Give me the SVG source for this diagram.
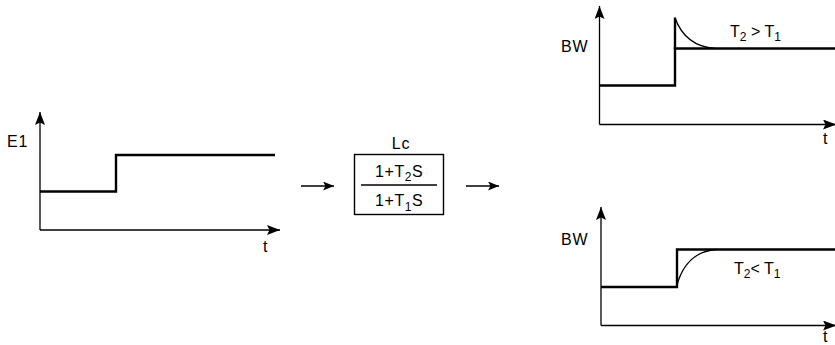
<svg xmlns="http://www.w3.org/2000/svg" width="835" height="345" viewBox="0 0 835 345">
  <defs>
    <marker id="ax" markerUnits="userSpaceOnUse" markerWidth="14" markerHeight="10" refX="13" refY="5" orient="auto">
      <path d="M0,0 L13,5 L0,10 L2.5,5 z" fill="#000"/>
    </marker>
    <marker id="ar" markerUnits="userSpaceOnUse" markerWidth="12" markerHeight="9" refX="11" refY="4.5" orient="auto">
      <path d="M0,0 L11,4.5 L0,9 L2.5,4.5 z" fill="#000"/>
    </marker>
  </defs>
  <style>
    .axis { stroke:#000; stroke-width:1.3; fill:none; marker-end:url(#ax); }
    .sig { stroke:#000; stroke-width:2.4; fill:none; stroke-linejoin:miter; }
    .curve { stroke:#000; stroke-width:1.4; fill:none; }
    .conn { stroke:#000; stroke-width:1.3; fill:none; marker-end:url(#ar); }
    text { font-family:"Liberation Sans", Arial, sans-serif; fill:#000; }
    .lbl { font-size:16px; letter-spacing:0.8px; }
    .t { font-size:16px; }
    .frac { font-size:16px; letter-spacing:0.6px; }
    .sub { font-size:12px; }
  </style>
  <rect width="835" height="345" fill="#fff"/>

  <g id="input-plot">
    <line class="axis" x1="40" y1="230" x2="40" y2="112"/>
    <line class="axis" x1="40" y1="230" x2="280" y2="230"/>
    <polyline class="sig" points="40,191.5 116,191.5 116,155 275,155"/>
    <text class="lbl" x="7" y="147">E1</text>
    <text class="t" x="263" y="252">t</text>
  </g>

  <g id="lc-block">
    <text class="lbl" x="401" y="149" text-anchor="middle">Lc</text>
    <rect x="354.5" y="154.5" width="89" height="60" fill="none" stroke="#000" stroke-width="1.4"/>
    <line x1="361" y1="185" x2="437" y2="185" stroke="#000" stroke-width="1.3"/>
    <text class="frac" x="375" y="177">1+T<tspan class="sub" dy="4">2</tspan><tspan dy="-4">S</tspan></text>
    <text class="frac" x="375" y="206">1+T<tspan class="sub" dy="5">1</tspan><tspan dy="-5">S</tspan></text>
  </g>

  <g id="output-high">
    <line class="axis" x1="599.5" y1="124.5" x2="599.5" y2="6"/>
    <line class="axis" x1="599.5" y1="124.5" x2="836" y2="124.5"/>
    <polyline class="sig" points="599.5,85.5 675,85.5 675,48.5 835,48.5"/>
    <line class="sig" x1="675" y1="49" x2="675" y2="17.5"/>
    <path class="curve" d="M675,18 C682,37 695,47 715,48.5"/>
    <text class="lbl" x="561" y="52">BW</text>
    <text class="t" x="730" y="37">T<tspan class="sub" dy="4">2</tspan><tspan dy="-4"> &gt; T</tspan><tspan class="sub" dy="4">1</tspan></text>
    <text class="t" x="823" y="144">t</text>
  </g>

  <g id="output-low">
    <line class="axis" x1="601" y1="325.5" x2="601" y2="207"/>
    <line class="axis" x1="601" y1="325.5" x2="836" y2="325.5"/>
    <polyline class="sig" points="601,287 677,287 677,249.5 835,249.5"/>
    <path class="curve" d="M677,285 C683,263 697,251 716,249.5"/>
    <text class="lbl" x="561" y="245">BW</text>
    <text class="t" x="734" y="273.5">T<tspan class="sub" dy="4">2</tspan><tspan dy="-4">&lt; T</tspan><tspan class="sub" dy="4">1</tspan></text>
    <text class="t" x="823" y="342">t</text>
  </g>

  <g id="connectors">
    <line class="conn" x1="301" y1="186" x2="334" y2="186"/>
    <line class="conn" x1="466" y1="186" x2="499" y2="186"/>
  </g>
</svg>
